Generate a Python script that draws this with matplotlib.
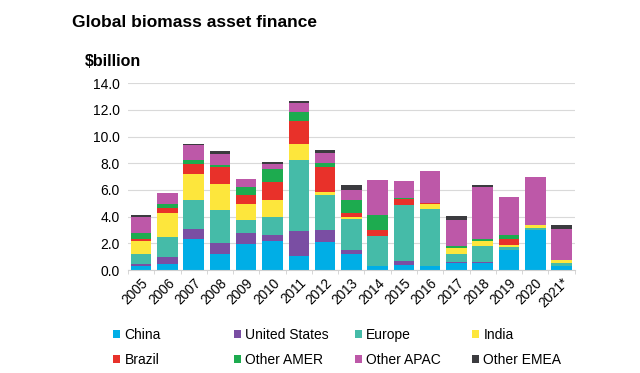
import matplotlib
matplotlib.use("Agg")
import matplotlib.pyplot as plt
import numpy as np
from matplotlib.ticker import FixedLocator

plt.rcParams['font.family'] = ['Liberation Sans', 'DejaVu Sans']

years = ['2005', '2006', '2007', '2008', '2009', '2010', '2011', '2012', '2013',
         '2014', '2015', '2016', '2017', '2018', '2019', '2020', '2021*']

china  = [0.32, 0.45, 2.29, 1.24, 1.94, 2.19, 1.02, 2.11, 1.24, 0.32, 0.40, 0.32, 0.50, 0.50, 1.49, 2.99, 0.32]
usa    = [0.13, 0.50, 0.77, 0.75, 0.87, 0.42, 1.87, 0.88, 0.25, 0.00, 0.30, 0.00, 0.12, 0.07, 0.00, 0.00, 0.00]
europe = [0.75, 1.54, 2.16, 2.54, 0.92, 1.37, 5.39, 2.63, 2.32, 2.24, 4.18, 4.23, 0.62, 1.25, 0.20, 0.19, 0.18]
india  = [0.94, 1.81, 1.97, 1.89, 1.20, 1.24, 1.20, 0.25, 0.17, 0.00, 0.00, 0.38, 0.43, 0.37, 0.20, 0.20, 0.25]
brazil = [0.16, 0.33, 0.77, 1.29, 0.67, 1.37, 1.66, 1.82, 0.27, 0.45, 0.47, 0.12, 0.00, 0.00, 0.42, 0.00, 0.00]
amer   = [0.50, 0.35, 0.32, 0.15, 0.62, 1.00, 0.70, 0.34, 1.00, 1.09, 0.07, 0.00, 0.15, 0.12, 0.30, 0.00, 0.00]
apac   = [1.18, 0.82, 1.07, 0.87, 0.62, 0.37, 0.67, 0.75, 0.75, 2.62, 1.22, 2.34, 1.91, 3.91, 2.86, 3.61, 2.36]
emea   = [0.15, 0.00, 0.10, 0.17, 0.00, 0.10, 0.13, 0.25, 0.34, 0.00, 0.00, 0.00, 0.32, 0.15, 0.00, 0.00, 0.25]

series = [('China', china, '#00aee6'),
          ('United States', usa, '#7a4ea3'),
          ('Europe', europe, '#45bba8'),
          ('India', india, '#fde63c'),
          ('Brazil', brazil, '#e8312a'),
          ('Other AMER', amer, '#1dab4f'),
          ('Other APAC', apac, '#bd58a8'),
          ('Other EMEA', emea, '#3b3b3f')]

fig = plt.figure(figsize=(6.4, 3.73), dpi=100)
ax = fig.add_axes([0.2, 0.276, 0.698, 0.501])

x = np.arange(len(years))
bottom = np.zeros(len(years))
handles = []
for name, vals, col in series:
    v = np.array(vals)
    b = ax.bar(x, v, 0.78, bottom=bottom, color=col, label=name, linewidth=0)
    handles.append(b)
    bottom += v

ax.set_ylim(0, 14)
ax.set_xlim(-0.5, len(years) - 0.5)
ax.set_yticks(np.arange(0, 14.1, 2))
ax.set_yticklabels([f'{v:.1f}' for v in np.arange(0, 14.1, 2)], fontsize=10)
ax.set_xticks(x)
ax.set_xticklabels(years, rotation=45, ha='right', rotation_mode='anchor', fontsize=9.8)
ax.tick_params(axis='x', length=0, pad=4)
ax.tick_params(axis='y', length=0, pad=6)
ax.xaxis.set_minor_locator(FixedLocator(np.arange(-0.5, len(years), 1)))
ax.tick_params(axis='x', which='minor', length=3, color='#d0d0d0')
ax.grid(axis='y', color='#d9d9d9', linewidth=0.8)
ax.set_axisbelow(True)
for s in ['top', 'right', 'left']:
    ax.spines[s].set_visible(False)
ax.spines['bottom'].set_color('#d0d0d0')

fig.text(0.112, 0.94, 'Global biomass asset finance', fontsize=12.5, fontweight='bold', ha='left', va='center')
fig.text(0.133, 0.835, '$billion', fontsize=11.5, fontweight='bold', ha='left', va='center')

# legend: 4 columns, row-major order
col_x = [0.177, 0.365, 0.554, 0.738]
for c in range(4):
    hs = [handles[c], handles[c + 4]]
    lb = [series[c][0], series[c + 4][0]]
    fig.legend(handles=hs, labels=lb, loc='upper left',
               bbox_to_anchor=(col_x[c], 0.12), ncol=1, frameon=False, fontsize=10,
               handlelength=0.5, handleheight=0.5, handletextpad=0.3,
               labelspacing=0.75, borderaxespad=0, borderpad=0)

fig.savefig('out.png', dpi=100)
